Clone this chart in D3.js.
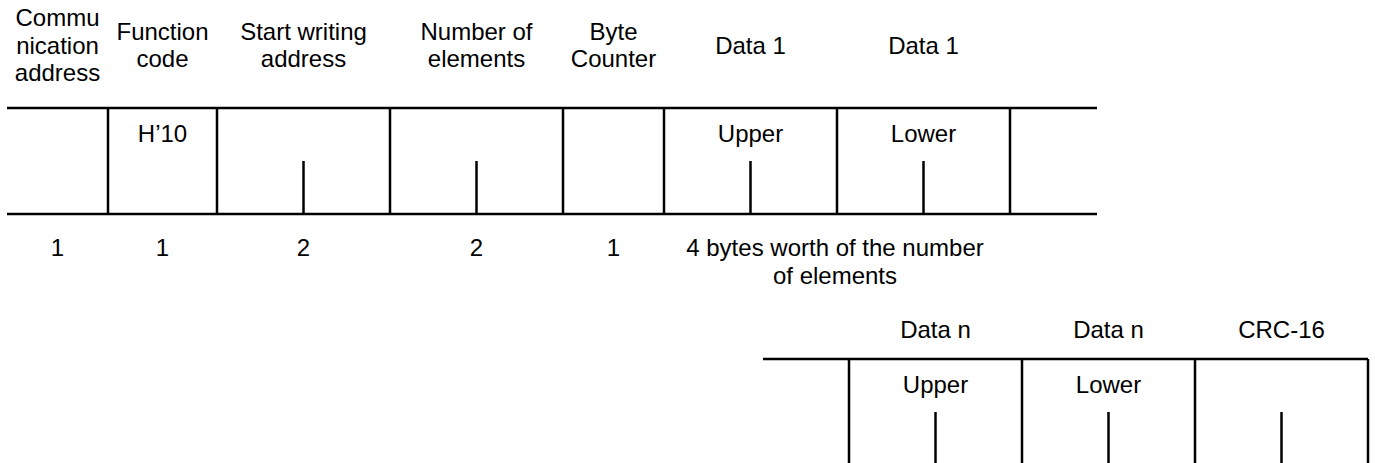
<!DOCTYPE html>
<html><head><meta charset="utf-8">
<script src="https://cdn.jsdelivr.net/npm/d3@7"></script>
<style>html,body{margin:0;padding:0;background:#fff;}svg{display:block;}</style>
</head><body>
<script>
// ---- data ----
const row1Headers = [["Commu","nication","address"],["Function","code"],["Start writing","address"],["Number of","elements"],["Byte","Counter"],["Data 1"],["Data 1"],[]];
const row1Inner = ["", "H\u201910", "", "", "", "Upper", "Lower", ""];
const row1Ticks = [false,false,true,true,false,true,true,false];
const row1Bytes = ["1","1","2","2","1"];
const dataNote = ["4 bytes worth of the number","of elements"];
const row2Headers = [[],["Data n"],["Data n"],["CRC-16"]];
const row2Inner = ["", "Upper", "Lower", ""];
const row2Ticks = [false,true,true,true];

// ---- layout ----
const W = 1375, H = 463;
const row1Edges = [7,108,217,390,563,664,837,1010,1097];
const row2Edges = [763,849,1022,1195,1368];
const FS = 24, LH = 27.5;
const svg = d3.select("body").append("svg").attr("width",W).attr("height",H);
const font = "'Liberation Sans', Arial, sans-serif";

function drawRow(edges, headers, inner, ticks, top, bottom, headerMid, innerBase, tickTop, drawBottom, noEdgeAt){
  const g = svg.append("g");
  const x0 = edges[0], x1 = edges[edges.length-1];
  g.append("line").attr("x1",x0).attr("x2",x1).attr("y1",top).attr("y2",top);
  if (drawBottom) g.append("line").attr("x1",x0).attr("x2",x1).attr("y1",bottom).attr("y2",bottom);
  edges.forEach((e,i)=>{
    if (i===0 || (i===edges.length-1 && noEdgeAt)) return;
    g.append("line").attr("x1",e).attr("x2",e).attr("y1",top).attr("y2",bottom);
  });
  for (let i=0;i<edges.length-1;i++){
    const cx = (edges[i]+edges[i+1])/2;
    if (ticks[i]) g.append("line").attr("x1",cx).attr("x2",cx).attr("y1",tickTop).attr("y2",bottom);
    const lines = headers[i]||[];
    const n = lines.length;
    lines.forEach((t,j)=>{
      svg.append("text").attr("x",cx).attr("y",headerMid + (j-(n-1)/2)*LH + FS*0.36)
        .attr("text-anchor","middle").text(t);
    });
    if (inner[i]) svg.append("text").attr("x",cx).attr("y",innerBase).attr("text-anchor","middle").text(inner[i]);
  }
  g.selectAll("line").attr("stroke","#000").attr("stroke-width",2.5);
  return g;
}

svg.attr("font-family",font).attr("font-size",FS).attr("fill","#000");

drawRow(row1Edges,row1Headers,row1Inner,row1Ticks,108,214,45,142,161,true,true);
row1Bytes.forEach((b,i)=>{
  const cx=(row1Edges[i]+row1Edges[i+1])/2;
  svg.append("text").attr("x",cx).attr("y",256).attr("text-anchor","middle").text(b);
});
dataNote.forEach((t,j)=>{
  svg.append("text").attr("x",835).attr("y",256+j*LH).attr("text-anchor","middle").text(t);
});
drawRow(row2Edges,row2Headers,row2Inner,row2Ticks,359,470,329,393,412,false,false);
</script>
</body></html>
